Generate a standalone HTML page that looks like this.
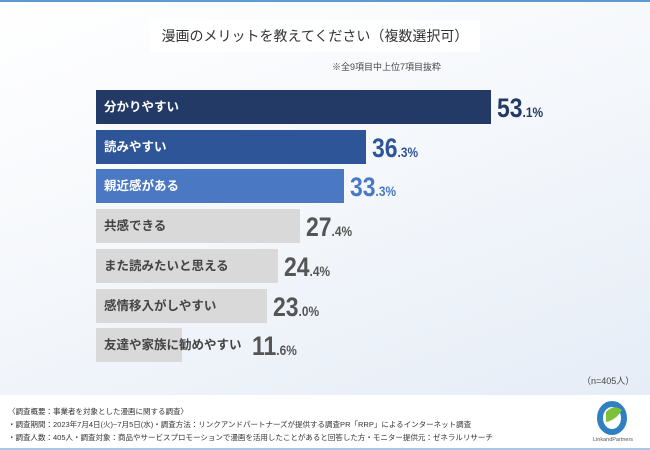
<!DOCTYPE html>
<html><head><meta charset="utf-8"><style>
body{margin:0}
#root{position:relative;width:650px;height:450px;overflow:hidden;font-family:"Liberation Sans","Noto Sans CJK JP",sans-serif;background:linear-gradient(160deg,#ffffff 0%,#f4f7fb 45%,#e3ebf6 100%);border-top:2px solid #5b9bd5;box-sizing:border-box}
.title{position:absolute;left:150px;top:18px;width:330px;height:32px;background:#fff;font-size:14px;color:#333;text-align:center;line-height:32px;white-space:nowrap}
.note{position:absolute;left:332px;top:58px;font-size:9px;color:#444;white-space:nowrap}
.bar{position:absolute;left:96px;height:34px}
.lbl{position:absolute;left:104px;font-size:12.5px;line-height:34px;font-weight:bold;white-space:nowrap}
.val{position:absolute;line-height:34px;white-space:nowrap;transform-origin:left center;transform:scaleX(0.85)}
.val b{font-size:27px;font-weight:bold}.val span{font-size:14px;font-weight:bold}
.n{position:absolute;left:582px;top:372px;font-size:9px;color:#444}
.foot{position:absolute;left:0;top:393px;width:650px;height:55px;background:#fff;border-bottom:2px solid #a9c7e6;box-sizing:border-box}
.foot div{position:absolute;left:8px;font-size:7.5px;color:#333;white-space:nowrap}
</style></head><body>
<div id="root">
<div class="title">漫画のメリットを教えてください（複数選択可）</div>
<div class="note">※全9項目中上位7項目抜粋</div>
<div id="bars"></div>
<div class="n">（n=405人）</div>
<div class="foot">
<div style="top:11px">〈調査概要：事業者を対象とした漫画に関する調査〉</div>
<div style="top:24px">・調査期間：2023年7月4日(火)~7月5日(水)・調査方法：リンクアンドパートナーズが提供する調査PR「RRP」によるインターネット調査</div>
<div style="top:37px">・調査人数：405人・調査対象：商品やサービスプロモーションで漫画を活用したことがあると回答した方・モニター提供元：ゼネラルリサーチ</div>
<svg style="position:absolute;left:592px;top:4px" width="44" height="44"><ellipse cx="20" cy="19" rx="12" ry="14" fill="none" stroke="#2f7fc1" stroke-width="6"/><path d="M14 13 Q22 5 30 11 Q24 21 14 23Z" fill="#7bbf3a"/><text x="1" y="42" font-size="5.5" fill="#555" font-family="Liberation Sans">LinkandPartners</text></svg>
</div>
</div>
<script>
const categories=["分かりやすい","読みやすい","親近感がある","共感できる","また読みたいと思える","感情移入がしやすい","友達や家族に勧めやすい"];
const values=[53.1,36.3,33.3,27.4,24.4,23.0,11.6];
const barColors=["#243a66","#2e5597","#4a78c2","#d9d9d9","#d9d9d9","#d9d9d9","#d9d9d9"];
const x=v=>v*7.44, y=i=>88+i*39.7;
const c=document.getElementById('bars');
categories.forEach((cat,i)=>{
 const b=document.createElement('div');b.className='bar';
 
 
 b.style.top=y(i)+'px';b.style.width=x(values[i])+'px';b.style.background=barColors[i];c.appendChild(b);
 const l=document.createElement('div');l.className='lbl';
 
 
 l.style.top=y(i)+'px';l.style.color=i<3?'#fff':'#444';l.textContent=cat;c.appendChild(l);
 const v=document.createElement('div');v.className='val';
 
 
 const left=96+Math.max(x(values[i]),i==6?150:0)+6;
 v.style.left=left+'px';v.style.top=(y(i)+1)+'px';v.style.color=i<3?barColors[i]:'#555';
 const p=values[i].toFixed(1).split('.');
 v.innerHTML='<b>'+p[0]+'</b><span>.'+p[1]+'%</span>';c.appendChild(v);
});
</script>
</body></html>
